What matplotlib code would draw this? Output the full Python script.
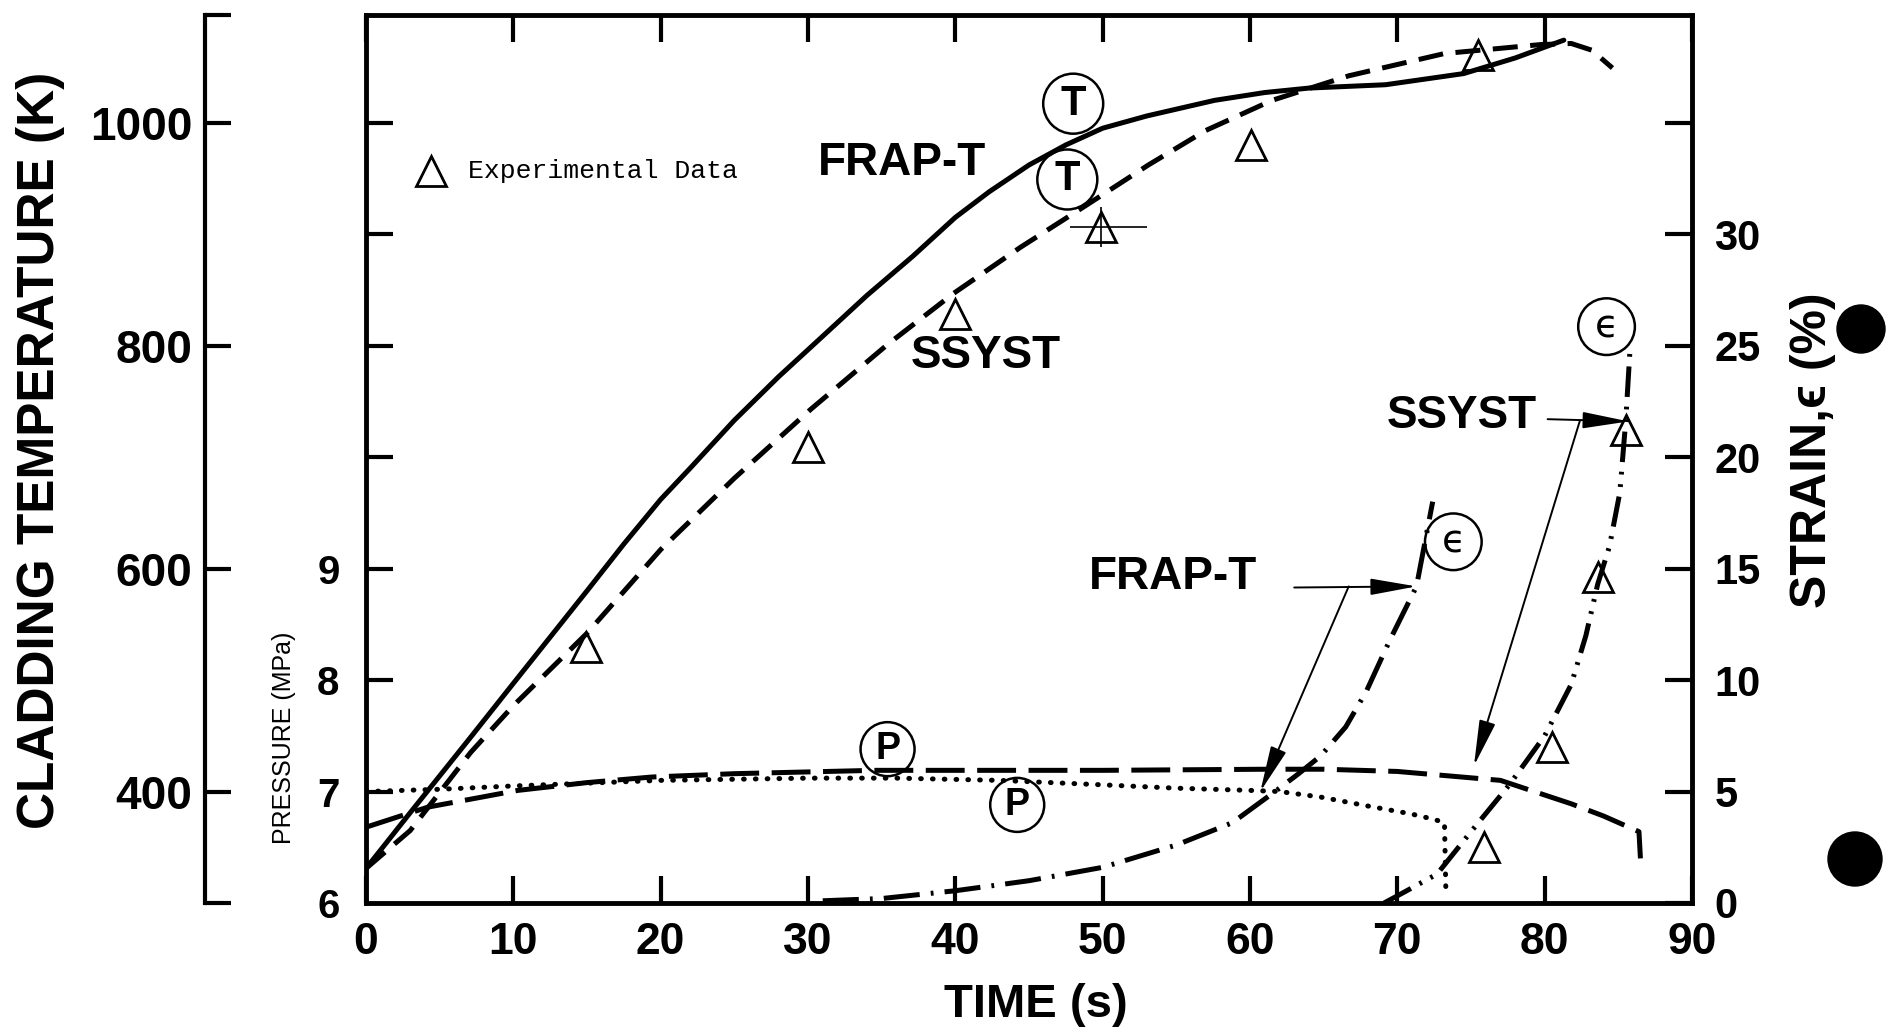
import matplotlib
matplotlib.use("Agg")
import matplotlib.pyplot as plt
from matplotlib.patches import Circle

plt.rcParams["font.family"] = ["Liberation Sans", "DejaVu Sans"]
plt.rcParams["lines.scale_dashes"] = False

# cladding temperature (K) vs time (s)
frap_temp_t = [0, 3, 7, 10, 15, 17.5, 20, 22, 25, 28, 30.8, 34, 37.1, 40, 42.3, 45, 47.5, 50, 53, 57.6, 61, 64, 69.2, 74.5, 78, 81.3]
frap_temp = [331, 381, 447, 497, 580, 622, 662, 690, 733, 772, 806, 845, 880, 915, 938, 962, 980, 995, 1006, 1020, 1027, 1031, 1034, 1044, 1058, 1074]
ssyst_temp_t = [0, 3, 7.1, 10, 15, 20, 25, 30.2, 35.4, 39.9, 44.4, 48.9, 53.1, 57, 61.5, 66.7, 73.2, 79.7, 81.8, 83.2, 84.6]
ssyst_temp = [331, 365, 435, 477, 542, 617, 681, 743, 801, 847, 888, 926, 962, 993, 1020, 1042, 1062, 1070, 1071, 1065, 1049]
exp_temp_t = [14.9, 30.0, 40.0, 49.9, 60.1, 75.5]
exp_temp = [530, 709, 828, 906, 980, 1061]

# pressure (MPa)
frap_p_t = [0, 4.2, 10.3, 15, 19.4, 25, 34.5, 40, 50, 61.2, 65, 70, 77, 81.8, 84, 86.4, 86.5]
frap_p = [6.68, 6.86, 7.01, 7.08, 7.13, 7.16, 7.19, 7.19, 7.19, 7.2, 7.2, 7.18, 7.1, 6.89, 6.78, 6.64, 6.4]
ssyst_p_t = [0, 5, 10, 20, 30, 36, 43, 50, 55, 60, 62, 64.8, 68, 70.9, 72.5, 73.2, 73.3]
ssyst_p = [7.0, 7.02, 7.05, 7.1, 7.12, 7.12, 7.1, 7.06, 7.03, 7.01, 7.0, 6.95, 6.87, 6.8, 6.75, 6.72, 6.07]

# strain (%)
frap_s_t = [31.0, 35, 40, 45, 50, 55, 58.8, 61.8, 63.3, 64.8, 66.5, 67.9, 69.5, 71.3, 72.4]
frap_s = [0.1, 0.2, 0.55, 1.0, 1.6, 2.6, 3.6, 5.05, 5.8, 6.6, 7.9, 9.5, 11.8, 14.2, 18.0]
ssyst_s_t = [69.1, 70.5, 72.7, 75.0, 77.6, 80.0, 81.8, 82.8, 83.6, 84.4, 85.1, 85.5, 85.8]
ssyst_s = [0, 0.5, 1.3, 3.2, 5.3, 7.5, 9.8, 12.0, 14.3, 16.0, 18.4, 21.6, 24.9]
exp_s_t = [75.9, 80.5, 83.6, 85.5]
exp_s = [2.5, 7.0, 14.6, 21.2]

time_ticks = list(range(0, 100, 10))
temp_ticks = [400, 600, 800, 1000]
pressure_ticks = [6, 7, 8, 9]
strain_ticks = [0, 5, 10, 15, 20, 25, 30, 35]
strain_labels = ["0", "5", "10", "15", "20", "25", "30", ""]

T_MIN, T_MAX = 300, 1097

fig = plt.figure(figsize=(18.89, 10.32), dpi=100)
ax = fig.add_axes([366 / 1889, 1 - 903 / 1032, 1326 / 1889, 888.5 / 1032])
ax_t = ax.twinx()
ax_p = ax.twinx()
ax_s = ax.twinx()

ax.set_xlim(0, 90)
ax.set_ylim(T_MIN, T_MAX)
ax_t.set_ylim(T_MIN, T_MAX)
ax_p.set_ylim(6, 6 + (T_MAX - T_MIN) / 100)
ax_s.set_ylim(0, (T_MAX - T_MIN) / 20)

for a in (ax_t, ax_p, ax_s):
    for sp in a.spines.values():
        sp.set_visible(False)
for sp in ax.spines.values():
    sp.set_linewidth(3.5)

# main box: time ticks top and bottom, temperature ticks on the left edge
ax.set_xticks(time_ticks)
ax.set_xticklabels([str(v) for v in time_ticks], fontsize=32, fontweight="bold")
ax.tick_params(axis="x", direction="in", top=True, length=19.5, width=3, pad=14)
ax.set_yticks(range(400, 1001, 100))
ax.set_yticklabels([])
ax.tick_params(axis="y", direction="in", left=True, right=False, length=19.5, width=3)

# outer temperature scale
ax_t.yaxis.set_ticks_position("left")
ax_t.spines["left"].set_visible(True)
ax_t.spines["left"].set_position(("outward", 116))
ax_t.spines["left"].set_linewidth(3)
ax_t.set_yticks(temp_ticks)
ax_t.set_yticklabels([str(v) for v in temp_ticks], fontsize=33, fontweight="bold")
ax_t.set_yticks([T_MIN, T_MAX], minor=True)
ax_t.tick_params(axis="y", which="both", direction="in", length=19, width=3, pad=9)

# pressure scale on the box edge
ax_p.yaxis.set_ticks_position("left")
ax_p.set_yticks(pressure_ticks)
ax_p.set_yticklabels([str(v) for v in pressure_ticks], fontsize=29, fontweight="bold")
ax_p.tick_params(axis="y", direction="in", length=0, pad=19)

# strain scale on the right edge
ax_s.yaxis.set_ticks_position("right")
ax_s.set_yticks(strain_ticks)
ax_s.set_yticklabels(strain_labels, fontsize=30, fontweight="bold")
ax_s.tick_params(axis="y", direction="in", length=19.5, width=3, pad=16)

# temperature curves
ax.plot(frap_temp_t, frap_temp, color="k", lw=3.6, solid_capstyle="round", solid_joinstyle="round")
ax.plot(ssyst_temp_t, ssyst_temp, color="k", lw=3.6, dashes=(18, 9))
ax.plot(exp_temp_t, exp_temp, ls="none", marker="^", ms=22, mfc="none", mec="k", mew=2)
ax.errorbar([exp_temp_t[3]], [exp_temp[3]], xerr=[[2.1], [3.1]], yerr=[[18], [18]],
            fmt="none", ecolor="k", elinewidth=1.2)

# pressure curves
ax_p.plot(frap_p_t, frap_p, color="k", lw=3.6, dashes=(28, 9))
ax_p.plot(ssyst_p_t, ssyst_p, color="k", lw=3.6, dashes=(0.5, 8), dash_capstyle="round")

# strain curves
ax_s.plot(frap_s_t, frap_s, color="k", lw=3.6, dashes=(26, 8, 2, 8))
ax_s.plot(ssyst_s_t, ssyst_s, color="k", lw=3.6, dashes=(22, 7, 2, 7, 2, 7))
ax_s.plot(exp_s_t, exp_s, ls="none", marker="^", ms=22, mfc="none", mec="k", mew=2)

# legend entry
ax.plot([4.4], [957], marker="^", ms=22, mfc="none", mec="k", mew=2)
ax.text(6.9, 957, "Experimental Data", family="Liberation Mono", fontsize=19, va="center")

# curve labels
bold = dict(fontsize=33, fontweight="bold", ha="center", va="center")
ax.text(36.4, 964, "FRAP-T", **bold)
ax.text(42.1, 791, "SSYST", **bold)
ax.text(74.4, 737, "SSYST", **bold)
ax.text(54.8, 592, "FRAP-T", **bold)

head = dict(arrowstyle="-|>,head_length=0.95,head_width=0.17", color="k", lw=1.4,
            mutation_scale=30, shrinkA=0, shrinkB=0)
ax.annotate("", xy=(85.7, 732), xytext=(80.2, 734), arrowprops=head)
ax.annotate("", xy=(75.2, 423), xytext=(82.4, 733), arrowprops=head)
ax.annotate("", xy=(71.3, 584), xytext=(63.0, 583), arrowprops=head)
ax.annotate("", xy=(60.7, 400), xytext=(66.7, 584), arrowprops=head)

# circled curve identifiers
ring = dict(boxstyle="circle,pad=0.24", fc="none", ec="k", lw=1.8)
ax.text(48.0, 1017, "T", fontsize=30, fontweight="bold", ha="center", va="center", bbox=ring)
ax.text(47.6, 949, "T", fontsize=30, fontweight="bold", ha="center", va="center", bbox=ring)
ax.text(35.4, 438, "P", fontsize=27, fontweight="bold", ha="center", va="center", bbox=ring)
ax.text(44.2, 388, "P", fontsize=27, fontweight="bold", ha="center", va="center", bbox=ring)
ax.text(84.2, 817, "\u03f5", fontsize=28, ha="center", va="center", bbox=ring,
        family=["DejaVu Sans"])
ax.text(73.8, 624, "\u03f5", fontsize=28, ha="center", va="center", bbox=ring,
        family=["DejaVu Sans"])

# axis titles
ax.text(-0.2453, 0.509, "CLADDING TEMPERATURE (K)", transform=ax.transAxes, rotation=90,
        fontsize=37, fontweight="bold", ha="center", va="center")
ax.text(-0.0619, 0.186, "PRESSURE (MPa)", transform=ax.transAxes, rotation=90,
        fontsize=18, ha="center", va="center")
ax.text(1.0913, 0.51, "STRAIN,\u03f5 (%)", transform=ax.transAxes, rotation=90,
        fontsize=36, fontweight="bold", ha="center", va="center")
ax.text(0.505, -0.115, "TIME (s)", transform=ax.transAxes,
        fontsize=34, fontweight="bold", ha="center", va="center")

# binder holes of the scanned page
fig.add_artist(Circle((18.61, 7.03), 0.24, transform=fig.dpi_scale_trans, color="k"))
fig.add_artist(Circle((18.55, 1.73), 0.27, transform=fig.dpi_scale_trans, color="k"))

fig.savefig("out.png", dpi=100)
